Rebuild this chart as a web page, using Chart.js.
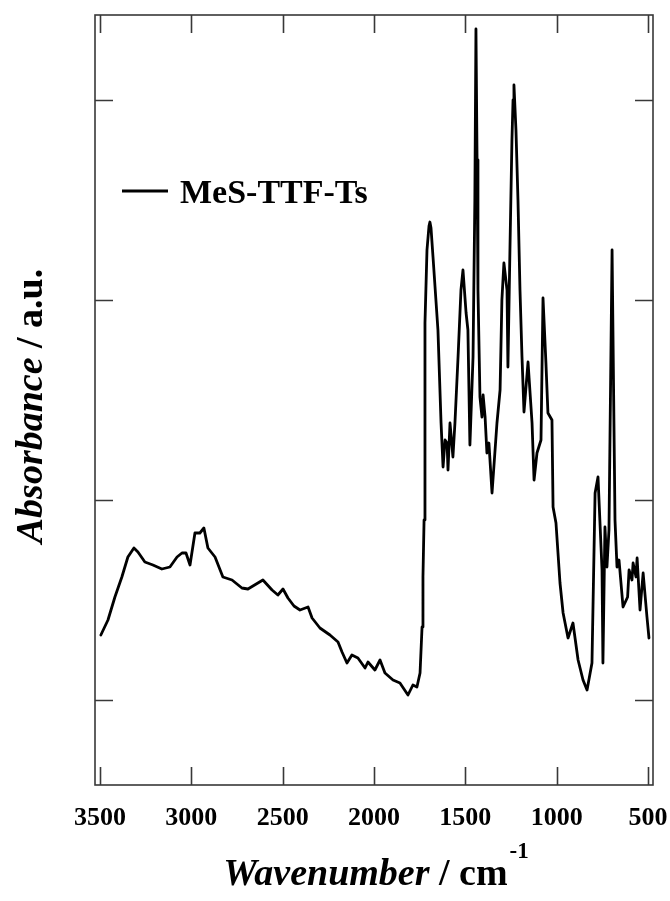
<!DOCTYPE html>
<html>
<head>
<meta charset="utf-8">
<script src="https://cdn.jsdelivr.net/npm/chart.js@4.4.1/dist/chart.umd.min.js"></script>
<style>
html, body { margin:0; padding:0; background:#fff; }
#wrap { width:670px; height:901px; }
</style>
</head>
<body>
<div id="wrap"><canvas id="irChart" width="670" height="901"></canvas></div>
<script>
const seriesName = "MeS-TTF-Ts";

// IR spectrum (wavenumber in cm-1, absorbance in a.u.)
const wavenumber = [
  3495, 3456, 3418, 3380, 3347, 3314, 3292, 3254, 3210, 3161, 3117, 3078, 3051, 3029, 3007,
  2980, 2953, 2931, 2909, 2870, 2827, 2777, 2723, 2690, 2608, 2558, 2526, 2498, 2471, 2438,
  2405, 2361, 2339, 2296, 2241, 2197, 2175, 2148, 2121, 2088, 2049, 2033, 1995, 1967, 1940,
  1896, 1858, 1814, 1787, 1765, 1748, 1737, 1732, 1726, 1721, 1710, 1699, 1694, 1688, 1677,
  1650, 1633, 1622, 1611, 1600, 1595, 1584, 1568, 1557, 1540, 1524, 1513, 1496, 1486, 1475,
  1458, 1448, 1442, 1436, 1431, 1420, 1409, 1403, 1392, 1382, 1371, 1354, 1327, 1310, 1300,
  1289, 1272, 1267, 1256, 1245, 1239, 1234, 1223, 1212, 1201, 1190, 1179, 1157, 1135, 1124,
  1108, 1086, 1075, 1059, 1048, 1026, 1020, 1004, 982, 965, 938, 911, 883, 856, 834,
  807, 790, 774, 752, 747, 736, 725, 714, 697, 681, 670, 659, 637, 612, 604,
  588, 582, 566, 560, 544, 527, 506, 495
];
const absorbance = [
  0.325, 0.40, 0.515, 0.615, 0.715, 0.76, 0.74, 0.69, 0.675, 0.655, 0.665, 0.715, 0.735, 0.735, 0.675,
  0.835, 0.835, 0.86, 0.76, 0.715, 0.615, 0.60, 0.56, 0.555, 0.60, 0.55, 0.525, 0.555, 0.51, 0.47,
  0.45, 0.465, 0.41, 0.36, 0.325, 0.29, 0.24, 0.185, 0.225, 0.21, 0.16, 0.19, 0.15, 0.20, 0.135,
  0.10, 0.085, 0.025, 0.075, 0.065, 0.135, 0.365, 0.615, 0.90, 1.885, 2.25, 2.37, 2.39, 2.36, 2.215,
  1.85, 1.385, 1.165, 1.30, 1.285, 1.15, 1.385, 1.215, 1.385, 1.715, 2.05, 2.15, 1.935, 1.85, 1.275,
  1.715, 2.50, 3.355, 2.70, 2.05, 1.515, 1.415, 1.525, 1.415, 1.235, 1.285, 1.035, 1.385, 1.55, 2.0,
  2.185, 2.05, 1.665, 2.25, 2.80, 3.0, 3.075, 2.85, 2.50, 2.05, 1.715, 1.44, 1.69, 1.385, 1.10,
  1.235, 1.30, 2.01, 1.685, 1.435, 1.40, 0.965, 0.885, 0.585, 0.435, 0.31, 0.385, 0.20, 0.10, 0.05,
  0.185, 1.035, 1.115, 0.65, 0.185, 0.865, 0.665, 0.85, 2.25, 0.90, 0.665, 0.70, 0.465, 0.515, 0.65,
  0.60, 0.685, 0.615, 0.71, 0.45, 0.635, 0.415, 0.31
];

const xTicks = [3500, 3000, 2500, 2000, 1500, 1000, 500];
const yTicks = [0, 1, 2, 3];

const SERIF = '"Liberation Serif", "DejaVu Serif", serif';
const FRAME = '#383838';

// frame, inward ticks on all four sides, legend and axis titles
const decorPlugin = {
  id: 'decor',
  afterDatasetsDraw(chart) {
    const { ctx, chartArea: a, scales } = chart;
    const xs = scales.x, ys = scales.y;
    const tick = 18;
    ctx.save();
    ctx.strokeStyle = FRAME;
    ctx.lineWidth = 1.6;
    ctx.strokeRect(a.left, a.top, a.right - a.left, a.bottom - a.top);
    ctx.beginPath();
    xTicks.forEach(v => {
      const px = Math.round(xs.getPixelForValue(v)) + 0.5;
      ctx.moveTo(px, a.bottom); ctx.lineTo(px, a.bottom - tick);
      ctx.moveTo(px, a.top); ctx.lineTo(px, a.top + tick);
    });
    yTicks.forEach(v => {
      const py = Math.round(ys.getPixelForValue(v)) + 0.5;
      ctx.moveTo(a.left, py); ctx.lineTo(a.left + tick, py);
      ctx.moveTo(a.right, py); ctx.lineTo(a.right - tick, py);
    });
    ctx.stroke();

    // legend
    const ds = chart.data.datasets[0];
    ctx.strokeStyle = ds.borderColor;
    ctx.lineWidth = 3;
    ctx.beginPath();
    ctx.moveTo(122, 191); ctx.lineTo(168, 191);
    ctx.stroke();
    ctx.fillStyle = '#000';
    ctx.font = 'bold 34px ' + SERIF;
    ctx.textBaseline = 'alphabetic';
    ctx.textAlign = 'left';
    ctx.fillText(ds.label, 180, 203);

    // x title: Wavenumber / cm-1
    const partA = 'Wavenumber', partB = ' / cm', sup = '-1';
    const fA = 'italic bold 38px ' + SERIF, fB = 'bold 38px ' + SERIF, fS = 'bold 23px ' + SERIF;
    ctx.font = fA; const wA = ctx.measureText(partA).width;
    ctx.font = fB; const wB = ctx.measureText(partB).width;
    ctx.font = fS; const wS = ctx.measureText(sup).width;
    let x0 = 376 - (wA + wB + wS + 2) / 2;
    const base = 885;
    ctx.font = fA; ctx.fillText(partA, x0, base); x0 += wA;
    ctx.font = fB; ctx.fillText(partB, x0, base); x0 += wB + 2;
    ctx.font = fS; ctx.fillText(sup, x0, base - 27);

    // y title: Absorbance / a.u.
    ctx.translate(42, 406);
    ctx.rotate(-Math.PI / 2);
    const yA = 'Absorbance', yB = ' / a.u.';
    ctx.font = fA; const wyA = ctx.measureText(yA).width;
    ctx.font = fB; const wyB = ctx.measureText(yB).width;
    let y0 = -(wyA + wyB) / 2;
    ctx.font = fA; ctx.fillText(yA, y0, 0); y0 += wyA;
    ctx.font = fB; ctx.fillText(yB, y0, 0);
    ctx.restore();
  }
};

const ctx = document.getElementById('irChart').getContext('2d');
new Chart(ctx, {
  type: 'line',
  data: {
    datasets: [{
      label: seriesName,
      data: wavenumber.map((w, i) => ({ x: w, y: absorbance[i] })),
      borderColor: '#000',
      borderWidth: 2.8,
      borderJoinStyle: 'round',
      borderCapStyle: 'round',
      pointRadius: 0,
      tension: 0,
      fill: false
    }]
  },
  options: {
    responsive: false,
    animation: false,
    devicePixelRatio: 1,
    layout: { padding: { left: 95, right: 17, top: 15, bottom: 76 } },
    plugins: { legend: { display: false }, tooltip: { enabled: false } },
    scales: {
      x: {
        type: 'linear',
        reverse: true,
        min: 473,
        max: 3527,
        grid: { display: false, drawTicks: false },
        border: { display: false },
        afterBuildTicks: s => { s.ticks = xTicks.map(v => ({ value: v })); },
        afterFit: s => { s.height = 40; s.paddingLeft = 0; s.paddingRight = 0; },
        ticks: {
          color: '#000',
          padding: 18,
          maxRotation: 0,
          autoSkip: false,
          callback: v => String(v),
          font: { family: SERIF, size: 26, weight: 'bold' }
        }
      },
      y: {
        display: false,
        min: -0.425,
        max: 3.425
      }
    }
  },
  plugins: [decorPlugin]
});
</script>
</body>
</html>
